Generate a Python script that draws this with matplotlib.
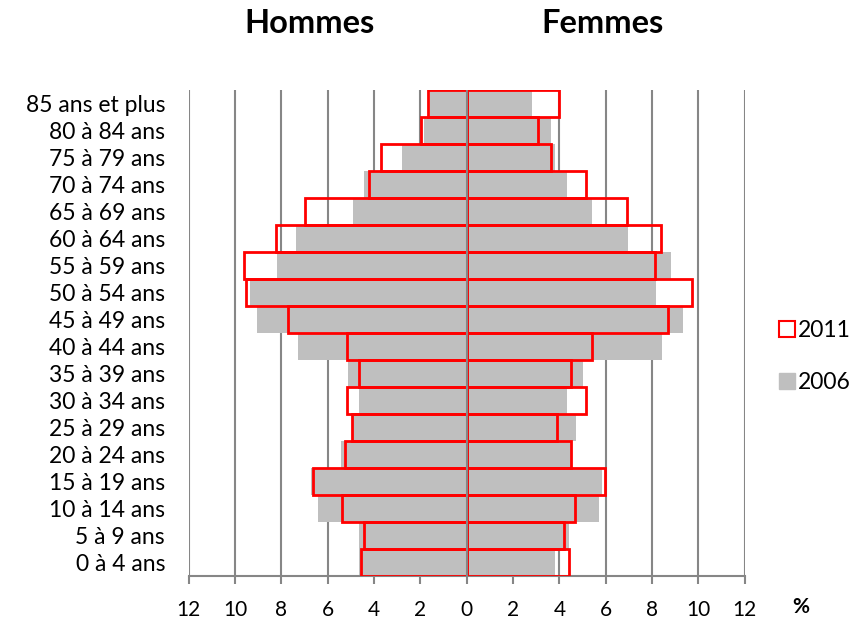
import matplotlib
matplotlib.use("Agg")
import matplotlib.pyplot as plt
from matplotlib.patches import Patch
import numpy as np

plt.rcParams['font.family'] = ['Lato', 'DejaVu Sans']

ages = ["0 à 4 ans", "5 à 9 ans", "10 à 14 ans", "15 à 19 ans", "20 à 24 ans",
        "25 à 29 ans", "30 à 34 ans", "35 à 39 ans", "40 à 44 ans", "45 à 49 ans",
        "50 à 54 ans", "55 à 59 ans", "60 à 64 ans", "65 à 69 ans", "70 à 74 ans",
        "75 à 79 ans", "80 à 84 ans", "85 ans et plus"]

hommes_2006 = [4.66, 4.66, 6.41, 6.74, 5.41, 4.91, 4.66, 5.11, 7.29, 9.05,
               9.35, 8.17, 7.39, 4.89, 4.44, 2.81, 1.85, 1.60]
hommes_2011 = [4.55, 4.43, 5.38, 6.65, 5.25, 4.96, 5.18, 4.63, 5.18, 7.72,
               9.51, 9.62, 8.24, 6.97, 4.21, 3.68, 1.99, 1.66]
femmes_2006 = [3.82, 4.42, 5.70, 5.83, 4.55, 4.70, 4.33, 5.00, 8.45, 9.33,
               8.15, 8.84, 6.98, 5.41, 4.33, 3.82, 3.62, 2.84]
femmes_2011 = [4.40, 4.18, 4.66, 5.96, 4.49, 3.91, 5.14, 4.49, 5.41, 8.67,
               9.71, 8.12, 8.38, 6.91, 5.14, 3.64, 3.07, 4.00]

ticks = [-12, -10, -8, -6, -4, -2, 0, 2, 4, 6, 8, 10, 12]
tick_labels = ["12", "10", "8", "6", "4", "2", "0", "2", "4", "6", "8", "10", "12"]

fig = plt.figure(figsize=(8.54, 6.24), dpi=100)
ax = fig.add_axes([0.221, 0.077, 0.651, 0.779])

y = np.arange(len(ages))
gray = "#bfbfbf"
ax.barh(y, -np.array(hommes_2006), height=1.0, color=gray, zorder=2)
ax.barh(y, femmes_2006, height=1.0, color=gray, zorder=2)
ax.barh(y, -np.array(hommes_2011), height=1.0, facecolor="none", edgecolor="#ff0000", linewidth=2, zorder=3)
ax.barh(y, femmes_2011, height=1.0, facecolor="none", edgecolor="#ff0000", linewidth=2, zorder=3)

for t in ticks:
    if t != 0:
        ax.axvline(t, color="#868686", linewidth=1.5, zorder=1)
ax.axvline(0, color="#868686", linewidth=1.5, zorder=4)

ax.set_xlim(-12, 12)
ax.set_ylim(-0.5, len(ages) - 0.5)
ax.set_xticks(ticks)
ax.set_xticklabels(tick_labels, fontsize=15)
ax.set_yticks(y)
ax.set_yticklabels(ages, fontsize=16.5)
ax.tick_params(axis='y', length=0, pad=17)
ax.tick_params(axis='x', direction='out', length=6, color="#868686", width=1.5, pad=11)
for s in ["top", "right", "left"]:
    ax.spines[s].set_visible(False)
ax.spines["bottom"].set_color("#868686")
ax.spines["bottom"].set_linewidth(1.5)

fig.text(0.362, 0.962, "Hommes", fontsize=23.5, fontweight="bold", ha="center", va="center")
fig.text(0.706, 0.962, "Femmes", fontsize=23.5, fontweight="bold", ha="center", va="center")
fig.text(0.938, 0.027, "%", fontsize=15, fontweight="bold", ha="center", va="center")

handles = [Patch(facecolor="white", edgecolor="#ff0000", linewidth=1.5, label="2011"),
           Patch(facecolor=gray, edgecolor=gray, label="2006")]
fig.legend(handles=handles, loc="center left", bbox_to_anchor=(0.912, 0.428),
           frameon=False, fontsize=16.5, handlelength=0.7, handleheight=0.7,
           handletextpad=0.15, labelspacing=1.35, borderpad=0, borderaxespad=0)

fig.savefig("out.png", dpi=100)
